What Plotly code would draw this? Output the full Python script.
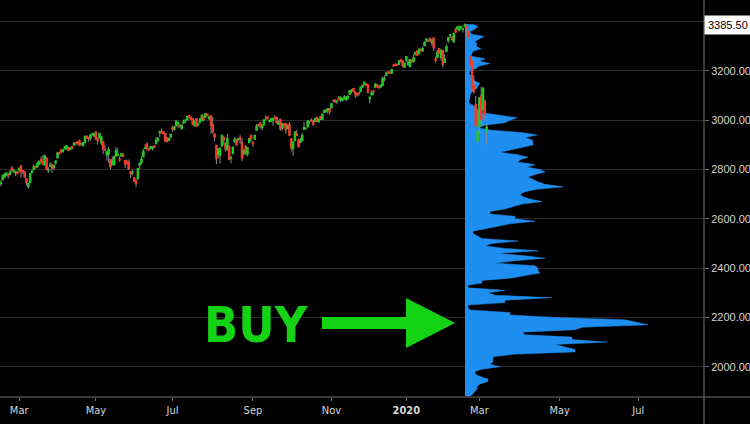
import plotly.graph_objects as go
import pandas as pd

# ---------------- data ----------------
holidays = ["2019-02-18", "2019-04-19", "2019-05-27", "2019-07-04", "2019-09-02",
            "2019-11-28", "2019-12-25", "2020-01-01", "2020-01-20", "2020-02-17"]

opens = [
    2743, 2760, 2770, 2782, 2781, 2781, 2805, 2793, 2787, 2789,
    2798, 2814, 2795, 2790, 2763, 2731, 2747, 2788, 2800, 2810, 2811, 2823, 2840, 2829, 2819, 2845, 2796, 2813, 2820, 2809, 2828,
    2848, 2869, 2877, 2874, 2884, 2888, 2886, 2882, 2892, 2901, 2908, 2912, 2916, 2905, 2898, 2910, 2935, 2929, 2926, 2941, 2937,
    2952, 2922, 2929, 2909, 2913, 2880, 2860, 2864, 2840, 2820, 2820, 2855, 2858, 2841, 2855, 2857, 2836, 2832, 2831, 2790, 2787, 2767,
    2752, 2763, 2818, 2829, 2853, 2885, 2903, 2882, 2886, 2886, 2895, 2906, 2920, 2949, 2953, 2952, 2946, 2927, 2919, 2932,
    2971, 2965, 2978, 2985, 2980, 2966, 2989, 2999, 3003, 3018, 3012, 3006, 2979, 3005, 2982, 2994, 2999, 3016, 3013, 3024, 3008, 3017,
    2981, 2943, 2898, 2862, 2859, 2897, 2930, 2907, 2881, 2895, 2847, 2865, 2913, 2919, 2922, 2930, 2911, 2866, 2894, 2862, 2910, 2938,
    2910, 2924, 2960, 2980, 2989, 2971, 2982, 3010, 3013, 2997, 2996, 3001, 3010, 3009, 2984, 3002, 2968, 2986, 2985, 2967,
    2983, 2924, 2885, 2918, 2945, 2920, 2912, 2919, 2964, 2966, 2974, 2990, 3000, 2996, 2996, 3010, 2994, 3014, 3004, 3032, 3036, 3040, 3047,
    3051, 3078, 3081, 3076, 3087, 3082, 3081, 3090, 3084, 3091, 3107, 3118, 3128, 3114, 3108, 3112, 3117, 3135, 3145, 3147,
    3144, 3088, 3104, 3119, 3135, 3141, 3135, 3136, 3142, 3167, 3183, 3195, 3195, 3192, 3223, 3227, 3226, 3227, 3247, 3240, 3215,
    3245, 3226, 3218, 3242, 3238, 3267, 3281, 3271, 3285, 3282, 3303, 3324, 3321, 3330, 3315, 3334, 3248, 3255, 3289, 3256, 3282,
    3235, 3280, 3324, 3345, 3335, 3319, 3365, 3370, 3366, 3378, 3369, 3380, 3380, 3360, 3258, 3238, 3140, 3063, 2916,
    2975, 3097, 3046, 3075, 2955,
]
highs = [
    2757, 2775, 2787, 2789, 2783, 2794, 2814, 2803, 2795, 2793,
    2809, 2817, 2796, 2790, 2763, 2744, 2784, 2800, 2821, 2816, 2831, 2836, 2852, 2860, 2861, 2852, 2809, 2830, 2822, 2820, 2836,
    2869, 2872, 2886, 2881, 2893, 2896, 2892, 2889, 2893, 2911, 2909, 2916, 2922, 2909, 2910, 2937, 2937, 2933, 2940, 2949, 2949,
    2955, 2931, 2948, 2937, 2913, 2898, 2875, 2892, 2841, 2853, 2858, 2892, 2886, 2853, 2868, 2865, 2837, 2841, 2841, 2791, 2799, 2768,
    2763, 2804, 2827, 2853, 2885, 2904, 2911, 2888, 2895, 2895, 2898, 2931, 2932, 2958, 2965, 2955, 2947, 2932, 2930, 2943,
    2978, 2974, 2996, 2994, 2981, 2981, 3003, 3002, 3014, 3018, 3015, 3006, 2999, 3006, 2991, 3006, 3019, 3017, 3028, 3025, 3018, 3018,
    3013, 2945, 2898, 2885, 2892, 2939, 2936, 2912, 2944, 2895, 2856, 2894, 2931, 2923, 2928, 2940, 2927, 2879, 2899, 2891, 2930, 2941,
    2915, 2938, 2985, 2985, 2990, 2980, 3001, 3020, 3017, 3003, 3006, 3007, 3022, 3016, 2999, 3007, 2990, 2988, 2987, 2983,
    2993, 2925, 2911, 2953, 2960, 2925, 2929, 2948, 2993, 2972, 3000, 2997, 3008, 3000, 3007, 3015, 3005, 3016, 3028, 3044, 3047, 3050, 3047,
    3067, 3085, 3084, 3079, 3098, 3094, 3089, 3103, 3098, 3097, 3121, 3124, 3128, 3118, 3110, 3112, 3134, 3142, 3154, 3150,
    3145, 3095, 3120, 3120, 3150, 3148, 3143, 3144, 3177, 3182, 3198, 3198, 3199, 3206, 3226, 3228, 3227, 3240, 3248, 3241, 3232,
    3258, 3246, 3247, 3245, 3268, 3275, 3282, 3288, 3295, 3299, 3317, 3330, 3329, 3338, 3327, 3334, 3258, 3285, 3294, 3286, 3282,
    3268, 3307, 3337, 3348, 3342, 3352, 3375, 3381, 3385, 3381, 3375, 3393, 3390, 3360, 3259, 3247, 3182, 3098, 2960,
    3091, 3137, 3130, 3084, 2985,
]
lows = [
    2731, 2757, 2767, 2774, 2764, 2781, 2794, 2788, 2775, 2782,
    2788, 2767, 2782, 2767, 2735, 2722, 2747, 2785, 2800, 2804, 2810, 2822, 2823, 2817, 2817, 2800, 2785, 2811, 2787, 2798, 2819,
    2848, 2859, 2866, 2868, 2883, 2880, 2874, 2879, 2881, 2898, 2897, 2901, 2894, 2897, 2897, 2910, 2927, 2913, 2917, 2939, 2933,
    2922, 2901, 2929, 2898, 2862, 2874, 2836, 2826, 2801, 2820, 2816, 2855, 2855, 2831, 2855, 2851, 2806, 2820, 2802, 2766, 2776, 2750,
    2728, 2763, 2801, 2822, 2853, 2883, 2878, 2874, 2881, 2877, 2887, 2905, 2911, 2932, 2947, 2944, 2911, 2912, 2918, 2929,
    2953, 2958, 2978, 2967, 2970, 2964, 2985, 2988, 3002, 3010, 3001, 2984, 2975, 2975, 2976, 2988, 2997, 2996, 3013, 3015, 3001, 2945,
    2945, 2915, 2822, 2847, 2825, 2894, 2900, 2874, 2877, 2839, 2825, 2865, 2913, 2899, 2917, 2904, 2834, 2856, 2860, 2853, 2909, 2914,
    2891, 2922, 2960, 2973, 2967, 2959, 2979, 3000, 3003, 2990, 2993, 2978, 3003, 2985, 2982, 2957, 2958, 2969, 2946, 2967,
    2938, 2874, 2856, 2918, 2937, 2892, 2907, 2913, 2964, 2963, 2974, 2986, 2992, 2976, 2995, 2995, 2992, 3000, 3003, 3032, 3033, 3026, 3023,
    3051, 3074, 3072, 3065, 3080, 3074, 3077, 3082, 3078, 3082, 3105, 3110, 3113, 3090, 3095, 3099, 3117, 3131, 3143, 3139,
    3110, 3070, 3102, 3102, 3134, 3135, 3126, 3133, 3138, 3157, 3182, 3191, 3191, 3192, 3216, 3221, 3222, 3227, 3235, 3216, 3213,
    3236, 3223, 3215, 3233, 3236, 3264, 3261, 3268, 3278, 3280, 3302, 3318, 3316, 3321, 3302, 3281, 3234, 3253, 3271, 3243, 3214,
    3235, 3280, 3313, 3334, 3323, 3317, 3355, 3369, 3360, 3368, 3356, 3378, 3341, 3328, 3214, 3118, 3108, 2978, 2905,
    2945, 2977, 3034, 2999, 2901,
]
closes = [
    2746, 2776, 2780, 2785, 2775, 2793, 2796, 2794, 2792, 2784,
    2804, 2793, 2790, 2771, 2749, 2743, 2783, 2792, 2811, 2808, 2822, 2833, 2833, 2824, 2855, 2801, 2798, 2818, 2805, 2815, 2834,
    2867, 2867, 2873, 2879, 2893, 2896, 2878, 2888, 2888, 2907, 2906, 2907, 2900, 2905, 2908, 2934, 2927, 2926, 2940, 2943, 2946,
    2924, 2918, 2946, 2932, 2884, 2879, 2871, 2881, 2812, 2834, 2851, 2876, 2860, 2840, 2864, 2856, 2822, 2826, 2802, 2783, 2789, 2752,
    2744, 2803, 2826, 2843, 2873, 2887, 2886, 2880, 2892, 2887, 2890, 2918, 2926, 2954, 2950, 2945, 2917, 2914, 2925, 2942,
    2964, 2973, 2996, 2990, 2976, 2980, 2993, 3000, 3014, 3014, 3004, 2984, 2995, 2977, 2985, 3005, 3020, 3004, 3026, 3021, 3013, 2980,
    2954, 2932, 2845, 2882, 2884, 2938, 2919, 2883, 2926, 2841, 2848, 2889, 2924, 2901, 2924, 2923, 2847, 2878, 2869, 2888, 2925, 2926,
    2906, 2938, 2976, 2979, 2978, 2979, 3001, 3010, 3007, 2998, 3006, 3007, 3007, 2992, 2992, 2967, 2985, 2978, 2962, 2977,
    2940, 2888, 2911, 2952, 2939, 2893, 2919, 2938, 2970, 2966, 2996, 2990, 2998, 2986, 3007, 2996, 3005, 3010, 3023, 3039, 3037, 3047, 3038,
    3067, 3078, 3075, 3077, 3085, 3093, 3087, 3092, 3094, 3097, 3120, 3122, 3120, 3108, 3104, 3110, 3134, 3141, 3154, 3141,
    3114, 3093, 3113, 3117, 3146, 3136, 3133, 3142, 3169, 3169, 3191, 3193, 3191, 3205, 3221, 3224, 3223, 3240, 3240, 3221, 3231,
    3258, 3235, 3246, 3237, 3253, 3275, 3265, 3288, 3283, 3289, 3317, 3330, 3321, 3322, 3326, 3295, 3244, 3276, 3273, 3284, 3226,
    3249, 3298, 3335, 3346, 3328, 3352, 3358, 3379, 3374, 3380, 3370, 3386, 3373, 3338, 3226, 3128, 3116, 2979, 2954,
    3090, 3003, 3130, 3024, 2972,
]

# visible-range volume profile (price row -> relative volume)
profile_levels = [
    3390, 3380, 3370, 3360, 3350, 3340, 3330, 3320, 3310, 3300, 3290, 3280, 3270, 3260, 3250, 3240, 3230, 3220, 3210, 3200,
    3190, 3180, 3170, 3160, 3150, 3140, 3130, 3120, 3110, 3100, 3090, 3080, 3070, 3060, 3050, 3040, 3030, 3020, 3010, 3000,
    2990, 2980, 2970, 2960, 2950, 2940, 2930, 2920, 2910, 2900, 2890, 2880, 2870, 2860, 2850, 2840, 2830, 2820, 2810, 2800,
    2790, 2780, 2770, 2760, 2750, 2740, 2730, 2720, 2710, 2700, 2690, 2680, 2670, 2660, 2650, 2640, 2630, 2620, 2610, 2600,
    2590, 2580, 2570, 2560, 2550, 2540, 2530, 2520, 2510, 2500, 2490, 2480, 2470, 2460, 2450, 2440, 2430, 2420, 2410, 2400,
    2390, 2380, 2370, 2360, 2350, 2340, 2330, 2320, 2310, 2300, 2290, 2280, 2270, 2260, 2250, 2240, 2230, 2220, 2210, 2200,
    2190, 2180, 2170, 2160, 2150, 2140, 2130, 2120, 2110, 2100, 2090, 2080, 2070, 2060, 2050, 2040, 2030, 2020, 2010, 2000,
    1990, 1980, 1970, 1960, 1950, 1940, 1930, 1920, 1910, 1900, 1890, 1880,
]
profile_volume = [
    8, 13, 10, 5, 6, 19, 14, 10, 12, 11, 16, 8, 7, 6, 20, 14, 25, 14, 11, 5,
    4, 6, 8, 9, 15, 13, 12, 8, 6, 5, 5, 4, 4, 8, 12, 13, 18, 35, 52, 45,
    40, 20, 13, 25, 57, 72, 60, 67, 68, 68, 57, 45, 35, 53, 63, 55, 53, 70, 62, 75,
    80, 70, 63, 68, 73, 80, 98, 72, 60, 55, 58, 65, 77, 57, 48, 40, 25, 25, 50, 50,
    70, 45, 33, 20, 8, 8, 12, 17, 53, 27, 20, 40, 73, 33, 60, 80, 50, 30, 70, 73,
    73, 75, 60, 47, 17, 17, 3, 3, 40, 23, 30, 87, 40, 40, 3, 3, 5, 45, 45, 90,
    160, 170, 183, 117, 110, 57, 60, 107, 107, 142, 90, 100, 110, 110, 47, 28, 28, 28, 25, 35,
    17, 10, 10, 15, 23, 23, 15, 12, 12, 10, 8, 5,
]

price_ticks = [2000, 2200, 2400, 2600, 2800, 3000, 3200, 3400]
price_tick_text = ["2000.00", "2200.00", "2400.00", "2600.00", "2800.00", "3000.00", "3200.00", ""]
date_ticks = ["2019-03-01", "2019-05-01", "2019-07-01", "2019-09-03", "2019-11-01",
              "2020-01-02", "2020-03-02", "2020-05-01", "2020-07-01"]
date_tick_text = ["Mar", "May", "Jul", "Sep", "Nov", "<b>2020</b>", "Mar", "May", "Jul"]
last_price = 3385.50

# ---------------- layout helpers ----------------
W, H = 750, 424
ML, MR, MT, MB = 0, 46, 0, 27
PW, PH = W - ML - MR, H - MT - MB


def px(x):
    return (x - ML) / PW


def py(y):
    return (MT + PH - y) / PH


days = [d for d in pd.bdate_range("2019-02-14", "2020-03-06") if d.strftime("%Y-%m-%d") not in holidays]
n = min(len(days), len(opens))
days = days[:n]
body_hi = [max(o, c) for o, c in zip(opens, closes)][:n]
body_lo = [min(o, c) for o, c in zip(opens, closes)][:n]

BLUE = "#1e8ff0"
GREEN = "#22c822"
RED = "#f03a2a"
WICK = "#8c8c8c"
BUYGREEN = "#14d214"
TXT = "#d6d6d6"
GRID = "#2a2a2a"
AXL = "#6e6e6e"
NARROW = "Liberation Sans Narrow, DejaVu Sans Condensed, Arial Narrow, Liberation Sans, sans-serif"

fig = go.Figure()
fig.add_trace(go.Scatter(
    y=profile_levels, x=profile_volume, mode="lines", fill="tozerox",
    fillcolor=BLUE, line=dict(color=BLUE, width=0.5), xaxis="x", yaxis="y",
    hoverinfo="skip", showlegend=False,
))
fig.add_trace(go.Candlestick(
    x=days, open=opens[:n], high=highs[:n], low=lows[:n], close=closes[:n],
    xaxis="x2", yaxis="y", showlegend=False,
    increasing=dict(line=dict(color=WICK, width=1), fillcolor=WICK),
    decreasing=dict(line=dict(color=WICK, width=1), fillcolor=WICK),
))
fig.add_trace(go.Candlestick(
    x=days, open=opens[:n], high=body_hi, low=body_lo, close=closes[:n],
    xaxis="x2", yaxis="y", showlegend=False,
    increasing=dict(line=dict(color=GREEN, width=1.5), fillcolor=GREEN),
    decreasing=dict(line=dict(color=RED, width=1.5), fillcolor=RED),
))

fig.update_layout(
    width=W, height=H,
    margin=dict(l=ML, r=MR, t=MT, b=MB, pad=0),
    paper_bgcolor="#000000", plot_bgcolor="#000000",
    showlegend=False,
    xaxis=dict(range=[-465, 239], visible=False, fixedrange=True),
    xaxis2=dict(
        type="date", overlaying="x", anchor="y", side="bottom",
        range=["2019-02-13 12:00", "2020-08-20"],
        rangebreaks=[dict(bounds=["sat", "mon"]), dict(values=holidays)],
        rangeslider=dict(visible=False),
        tickmode="array", tickvals=date_ticks, ticktext=date_tick_text,
        tickfont=dict(family=NARROW, size=11, color=TXT),
        ticks="outside", ticklen=3, tickcolor=AXL,
        showgrid=False, zeroline=False, showline=False,
    ),
    yaxis=dict(
        side="right", range=[1877, 3488],
        tickmode="array", tickvals=price_ticks, ticktext=price_tick_text,
        tickfont=dict(family="Liberation Sans, Arial, sans-serif", size=11, color=TXT),
        ticks="outside", ticklen=4, tickcolor=AXL,
        showgrid=True, gridcolor=GRID, gridwidth=1, zeroline=False, showline=False,
    ),
    shapes=[
        dict(type="line", xref="paper", yref="paper", x0=px(0), x1=px(W), y0=py(PH), y1=py(PH),
             line=dict(color=AXL, width=1)),
        dict(type="line", xref="paper", yref="paper", x0=1, x1=1, y0=py(H), y1=py(0),
             line=dict(color=AXL, width=1)),
        # arrow shaft and head
        dict(type="rect", xref="paper", yref="paper", x0=px(322), x1=px(408), y0=py(329), y1=py(317),
             fillcolor=BUYGREEN, line=dict(width=0)),
        dict(type="path", xref="paper", yref="paper",
             path=f"M {px(406)} {py(298)} L {px(455)} {py(323)} L {px(406)} {py(348)} Z",
             fillcolor=BUYGREEN, line=dict(width=0)),
    ],
    annotations=[
        dict(text="<b>BUY</b>", xref="paper", yref="paper", x=px(256), y=py(325),
             xanchor="center", yanchor="middle", showarrow=False,
             font=dict(family=NARROW, size=50, color=BUYGREEN)),
        dict(text=f"{last_price:.2f}", xref="paper", yref="y", x=1, y=last_price,
             xanchor="left", yanchor="middle", showarrow=False, xshift=0,
             bgcolor="#ffffff", borderpad=3,
             font=dict(family="Liberation Sans, Arial, sans-serif", size=11, color="#000000")),
    ],
)

fig.write_html(
    "out.html", include_plotlyjs=True, config={"displayModeBar": False},
    post_script="document.body.style.margin='0';document.body.style.background='#000';",
)
